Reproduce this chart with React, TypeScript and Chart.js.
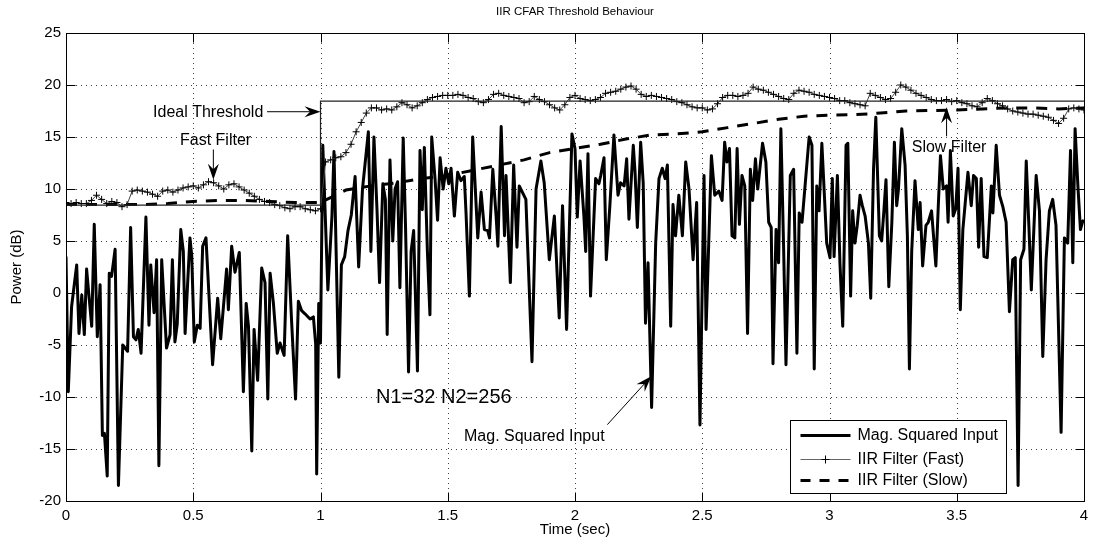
import React, { useEffect, useRef } from "react";
import { Chart, registerables } from "chart.js";

Chart.register(...registerables);

const FONT = "'Liberation Sans', Arial, Helvetica, sans-serif";

const TITLE = "IIR CFAR Threshold Behaviour";
const X_LABEL = "Time (sec)";
const Y_LABEL = "Power (dB)";
const X_TICKS = [0, 0.5, 1, 1.5, 2, 2.5, 3, 3.5, 4];
const Y_TICKS = [-20, -15, -10, -5, 0, 5, 10, 15, 20, 25];
const SERIES_NAMES = ["Mag. Squared Input", "IIR Filter (Fast)", "IIR Filter (Slow)"];

// Mag. squared input (dB), read vertex by vertex
const INPUT_T = [
  0.000, 0.009, 0.022, 0.042, 0.051, 0.062, 0.072, 0.081, 0.101, 0.111, 0.123, 0.134, 0.143, 0.151, 0.162, 0.170,
  0.179, 0.193, 0.206, 0.223, 0.242, 0.254, 0.265, 0.275, 0.284, 0.295, 0.314, 0.326, 0.333, 0.346, 0.356, 0.365,
  0.376, 0.395, 0.409, 0.418, 0.428, 0.437, 0.451, 0.461, 0.468, 0.487, 0.494, 0.504, 0.516, 0.527, 0.537, 0.550,
  0.576, 0.596, 0.608, 0.631, 0.638, 0.651, 0.664, 0.681, 0.697, 0.708, 0.717, 0.730, 0.739, 0.753, 0.769, 0.782,
  0.793, 0.802, 0.815, 0.830, 0.841, 0.857, 0.871, 0.887, 0.902, 0.913, 0.926, 0.939, 0.959, 0.972, 0.981, 0.985,
  0.993, 1.000, 1.009, 1.029, 1.045, 1.053, 1.072, 1.082, 1.095, 1.108, 1.121, 1.136, 1.150, 1.165, 1.188, 1.198,
  1.210, 1.222, 1.232, 1.245, 1.255, 1.262, 1.273, 1.284, 1.293, 1.303, 1.312, 1.325, 1.334, 1.346, 1.356, 1.366,
  1.381, 1.391, 1.400, 1.408, 1.420, 1.430, 1.437, 1.450, 1.460, 1.470, 1.482, 1.493, 1.504, 1.513, 1.526, 1.539,
  1.552, 1.565, 1.572, 1.585, 1.598, 1.618, 1.631, 1.644, 1.657, 1.664, 1.677, 1.690, 1.697, 1.710, 1.723, 1.729,
  1.746, 1.759, 1.772, 1.781, 1.807, 1.831, 1.847, 1.866, 1.879, 1.899, 1.919, 1.938, 1.951, 1.967, 1.988, 2.000,
  2.009, 2.020, 2.035, 2.042, 2.051, 2.061, 2.081, 2.094, 2.101, 2.114, 2.123, 2.137, 2.153, 2.169, 2.179, 2.193,
  2.203, 2.212, 2.229, 2.236, 2.245, 2.258, 2.268, 2.277, 2.287, 2.301, 2.317, 2.330, 2.343, 2.354, 2.363, 2.376,
  2.385, 2.395, 2.408, 2.422, 2.435, 2.448, 2.464, 2.478, 2.491, 2.507, 2.515, 2.536, 2.549, 2.565, 2.578, 2.588,
  2.597, 2.607, 2.617, 2.628, 2.637, 2.646, 2.656, 2.667, 2.678, 2.689, 2.698, 2.709, 2.718, 2.737, 2.750, 2.761,
  2.771, 2.778, 2.790, 2.800, 2.809, 2.820, 2.829, 2.846, 2.859, 2.872, 2.881, 2.892, 2.920, 2.931, 2.940, 2.950,
  2.959, 2.970, 2.989, 3.002, 3.011, 3.018, 3.031, 3.041, 3.052, 3.065, 3.072, 3.083, 3.091, 3.100, 3.109, 3.120,
  3.129, 3.140, 3.153, 3.162, 3.173, 3.182, 3.196, 3.205, 3.214, 3.222, 3.233, 3.245, 3.255, 3.264, 3.271, 3.284,
  3.297, 3.306, 3.314, 3.323, 3.336, 3.349, 3.356, 3.366, 3.379, 3.388, 3.401, 3.418, 3.427, 3.436, 3.447, 3.460,
  3.466, 3.475, 3.486, 3.496, 3.505, 3.514, 3.524, 3.544, 3.557, 3.566, 3.577, 3.586, 3.596, 3.607, 3.620, 3.636,
  3.642, 3.655, 3.668, 3.681, 3.694, 3.707, 3.720, 3.730, 3.741, 3.751, 3.764, 3.773, 3.784, 3.793, 3.806, 3.812,
  3.825, 3.838, 3.851, 3.864, 3.877, 3.890, 3.910, 3.923, 3.936, 3.947, 3.956, 3.965, 3.976, 3.986, 3.995, 4.000,
];
const INPUT_V = [
  3.5, -9.5, -1.3, 2.7, -3.9, -0.2, -4.0, 2.3, -3.2, 6.6, -4.2, 0.8, -13.7, -13.5, -17.6, 1.9,
  1.6, 4.2, -18.5, -5.0, -5.6, 6.3, -4.2, -4.5, -3.5, -5.8, 7.3, -3.1, 2.7, -1.9, 3.2, -16.6,
  3.2, -5.3, -4.0, 3.2, -4.7, -3.0, 6.1, 4.0, -3.9, 5.3, 3.6, -4.7, -3.1, -3.4, 4.5, 5.3,
  -6.9, -0.5, -4.4, 2.3, -1.6, 4.5, 2.0, 3.9, -9.5, -1.0, -3.2, -15.2, -3.5, -8.4, 2.4, 1.0,
  -10.2, 1.9, -1.0, -5.8, -4.8, -6.0, 5.5, -3.0, -10.2, -0.8, -1.7, -2.0, -2.5, -2.3, -4.9, -17.4,
  -1.0, -4.8, 14.2, 0.3, 7.4, 13.6, -8.1, 2.7, 3.5, 6.0, 7.5, 11.2, 2.5, 10.0, 15.5, 4.0,
  15.0, 8.0, 1.0, 10.5, 9.0, -4.0, 12.8, 5.0, 10.0, 10.7, 0.5, 14.9, 6.5, -7.6, 4.0, 6.0,
  -7.5, 13.7, 8.0, 14.0, 4.0, -2.1, 15.0, 11.0, 7.0, 13.0, 10.0, 12.0, 10.5, 12.0, 7.4, 11.6,
  10.8, 11.2, 7.6, -0.3, 15.0, 5.3, 9.7, 6.1, 6.0, 5.3, 11.9, 7.4, 4.5, 16.0, 5.5, 11.3,
  1.0, 12.3, 4.4, 10.3, 9.0, -6.6, 10.0, 12.7, 10.6, 3.2, 7.4, -2.4, 8.4, -3.5, 15.3, 13.9,
  7.3, 12.7, 7.4, 4.0, 13.4, -0.3, 11.0, 10.5, 11.3, 13.0, 3.2, 8.4, 15.2, 9.4, 10.6, 10.3,
  12.9, 7.1, 14.2, 11.6, 6.3, 14.5, 10.6, -2.9, 2.9, -11.0, 4.8, 11.0, 12.0, 11.0, 12.3, -3.2,
  8.5, 5.5, 9.4, 5.5, 12.6, 10.0, 3.2, 8.7, -12.7, 11.3, -3.5, 13.2, 9.4, 9.8, 8.9, 14.5,
  12.6, 13.9, 5.5, 5.3, 13.9, 6.6, 11.3, 10.3, -3.9, 11.9, 8.9, 12.9, 10.0, 14.4, 12.6, 6.8,
  6.3, -6.8, 6.1, 2.9, 15.8, 4.0, -6.9, 11.3, 11.9, -5.8, 7.7, 6.8, 15.0, 14.2, -7.3, 10.3,
  7.9, 14.4, 4.8, 3.4, 11.0, 3.5, 11.3, 2.9, -3.2, 14.2, 14.4, -0.3, 7.9, 4.8, 6.5, 9.4,
  8.4, 7.4, 4.8, -0.5, 11.9, 16.9, 5.5, 5.0, 8.0, 10.9, 0.6, 6.8, 14.5, 8.4, 10.0, 15.8,
  12.3, 5.5, -7.3, 4.0, 10.8, 6.1, 8.7, 2.6, 6.5, 6.8, 7.9, 2.6, 8.1, 13.2, 10.0, 10.3,
  6.8, 13.7, 7.4, 8.1, 12.0, -1.6, 6.1, 11.6, 8.4, 11.3, 11.0, 4.4, 11.0, 3.5, 3.4, 10.3,
  7.7, 14.2, 9.4, 8.3, 6.8, -1.8, 3.2, 3.4, -18.5, 3.2, 4.2, 12.7, 6.1, 0.3, 7.9, 11.3,
  7.9, -6.1, 3.2, 7.9, 9.0, 6.5, -13.4, 5.3, 4.8, 13.7, 2.9, 15.8, 10.3, 6.1, 6.9, 7.0,
];

// IIR Filter (Fast), one reading every FAST_STEP seconds from t = 0
const FAST_STEP = 0.02;
const FAST_V = [
  8.7, 8.6, 8.7, 8.6, 8.6, 8.9, 9.4, 9.0, 8.6, 8.8, 8.7, 8.3, 8.5, 9.8, 9.9, 9.8,
  9.7, 9.5, 9.3, 9.8, 9.9, 9.7, 9.9, 10.1, 10.2, 10.3, 10.1, 10.4, 10.7, 10.6, 10.3, 10.0,
  10.4, 10.5, 10.2, 9.9, 9.6, 9.3, 9.0, 8.8, 8.7, 8.5, 8.4, 8.2, 8.1, 8.3, 8.3, 8.1,
  8.0, 7.9, 8.1, 12.6, 12.8, 13.0, 13.1, 13.5, 14.3, 15.5, 16.4, 17.3, 17.8, 17.8, 17.6, 17.7,
  17.6, 17.9, 18.3, 18.1, 17.8, 18.0, 18.3, 18.6, 18.8, 18.9, 19.0, 19.0, 19.0, 19.1, 19.0, 18.8,
  18.7, 18.4, 18.3, 18.6, 19.1, 19.2, 19.0, 18.9, 18.8, 18.7, 18.3, 18.4, 18.9, 18.6, 18.4, 18.1,
  17.8, 17.6, 18.1, 18.8, 19.0, 18.7, 18.6, 18.5, 18.6, 18.8, 19.2, 19.3, 19.4, 19.6, 19.8, 19.9,
  19.6, 19.1, 18.9, 19.0, 18.9, 18.8, 18.7, 18.6, 18.4, 18.3, 18.1, 17.9, 17.8, 17.8, 17.6, 17.7,
  18.2, 18.8, 19.0, 19.0, 18.9, 19.0, 19.2, 19.8, 19.6, 19.5, 19.3, 19.1, 18.9, 18.7, 18.6, 19.2,
  19.5, 19.4, 19.3, 19.1, 19.0, 18.9, 18.8, 18.7, 18.5, 18.5, 18.3, 18.2, 18.1, 18.0, 19.2, 19.0,
  18.8, 18.6, 18.7, 19.3, 20.0, 19.8, 19.5, 19.2, 19.0, 18.8, 18.6, 18.5, 18.5, 18.6, 18.4, 18.5,
  18.3, 18.2, 18.0, 17.9, 18.3, 18.7, 18.5, 18.2, 18.0, 17.7, 17.5, 17.4, 17.3, 17.2, 17.2, 17.1,
  17.0, 16.9, 16.6, 16.3, 16.8, 17.7, 17.8, 17.7, 17.6,
];

// IIR Filter (Slow)
const SLOW_T = [0, 0.1, 0.2, 0.3, 0.4, 0.5, 0.6, 0.7, 0.8, 0.9, 1.0, 1.05, 1.1, 1.2, 1.3, 1.4, 1.5, 1.6, 1.7, 1.8,
  1.9, 2.0, 2.1, 2.2, 2.3, 2.4, 2.5, 2.6, 2.7, 2.8, 2.9, 3.0, 3.1, 3.2, 3.3, 3.4, 3.5, 3.6, 3.7, 3.8, 3.9, 4.0];
const SLOW_V = [8.5, 8.5, 8.5, 8.5, 8.6, 8.8, 8.9, 8.9, 8.8, 8.7, 8.7, 9.3, 9.9, 10.3, 10.6, 11.0, 11.3, 11.8, 12.3, 12.8,
  13.5, 13.9, 14.3, 14.8, 15.2, 15.3, 15.5, 15.9, 16.3, 16.7, 17.0, 17.1, 17.15, 17.3, 17.5, 17.55, 17.6, 17.7, 17.8, 17.8, 17.7, 17.8];

// Ideal threshold
const IDEAL_T = [0, 1, 1, 4];
const IDEAL_V = [8.45, 8.45, 18.45, 18.45];

// Text annotations (data coordinates), with optional arrows [t1, v1, t2, v2]
const ANNOTATIONS = [
  { text: "Ideal Threshold", t: 0.342, v: 16.9, size: 16, arrow: [0.79, 17.43, 1.0, 17.43] },
  { text: "Fast Filter", t: 0.448, v: 14.2, size: 16, arrow: [0.579, 13.8, 0.579, 10.9] },
  { text: "Slow Filter", t: 3.323, v: 13.6, size: 16, arrow: [3.46, 15.07, 3.46, 17.85] },
  { text: "N1=32 N2=256", t: 1.218, v: -10.6, size: 20, arrow: null },
  { text: "Mag. Squared Input", t: 1.564, v: -14.2, size: 16, arrow: [2.127, -12.66, 2.3, -8.0] },
];

function pts(ts: number[], vs: number[]) {
  return ts.map((t, i) => ({ x: t, y: vs[i] }));
}

function drawArrow(ctx: CanvasRenderingContext2D, x1: number, y1: number, x2: number, y2: number) {
  const ang = Math.atan2(y2 - y1, x2 - x1);
  const L = 16, W = 5.5;
  ctx.save();
  ctx.strokeStyle = "#000";
  ctx.fillStyle = "#000";
  ctx.lineWidth = 1;
  ctx.beginPath();
  ctx.moveTo(x1, y1);
  ctx.lineTo(x2 - Math.cos(ang) * L * 0.6, y2 - Math.sin(ang) * L * 0.6);
  ctx.stroke();
  ctx.translate(x2, y2);
  ctx.rotate(ang);
  ctx.beginPath();
  ctx.moveTo(0, 0);
  ctx.lineTo(-L, -W);
  ctx.lineTo(-L * 0.65, 0);
  ctx.lineTo(-L, W);
  ctx.closePath();
  ctx.fill();
  ctx.restore();
}

const overlay = {
  id: "overlay",
  beforeDatasetsDraw(chart: any) {
    const { ctx, chartArea: a, scales } = chart;
    const xs = scales.x, ys = scales.y;
    ctx.save();
    ctx.strokeStyle = "rgba(0,0,0,0.75)";
    ctx.lineWidth = 1;
    ctx.setLineDash([1, 4]);
    for (const t of X_TICKS) {
      const px = Math.round(xs.getPixelForValue(t)) + 0.5;
      if (px <= a.left + 1 || px >= a.right - 1) continue;
      ctx.beginPath();
      ctx.moveTo(px, a.top);
      ctx.lineTo(px, a.bottom);
      ctx.stroke();
    }
    for (const v of Y_TICKS) {
      const py = Math.round(ys.getPixelForValue(v)) + 0.5;
      if (py <= a.top + 1 || py >= a.bottom - 1) continue;
      ctx.beginPath();
      ctx.moveTo(a.left, py);
      ctx.lineTo(a.right, py);
      ctx.stroke();
    }
    ctx.restore();
  },
  afterDraw(chart: any) {
    const { ctx, chartArea: a, scales } = chart;
    const xs = scales.x, ys = scales.y;
    const X = (t: number) => xs.getPixelForValue(t);
    const Y = (v: number) => ys.getPixelForValue(v);
    ctx.save();
    // frame
    ctx.strokeStyle = "#000";
    ctx.lineWidth = 1;
    const l = Math.round(a.left) + 0.5, r = Math.round(a.right) + 0.5;
    const tp = Math.round(a.top) + 0.5, b = Math.round(a.bottom) + 0.5;
    ctx.strokeRect(l, tp, r - l, b - tp);
    // inward ticks
    const TL = 9;
    ctx.beginPath();
    for (const t of X_TICKS) {
      const px = Math.round(X(t)) + 0.5;
      ctx.moveTo(px, b); ctx.lineTo(px, b - TL);
      ctx.moveTo(px, tp); ctx.lineTo(px, tp + TL);
    }
    for (const v of Y_TICKS) {
      const py = Math.round(Y(v)) + 0.5;
      ctx.moveTo(l, py); ctx.lineTo(l + TL, py);
      ctx.moveTo(r, py); ctx.lineTo(r - TL, py);
    }
    ctx.stroke();

    // title and axis labels
    ctx.fillStyle = "#000";
    ctx.textAlign = "center";
    ctx.textBaseline = "middle";
    ctx.font = `11.5px ${FONT}`;
    ctx.fillText(TITLE, (a.left + a.right) / 2, 12);
    ctx.font = `15px ${FONT}`;
    ctx.fillText(X_LABEL, (a.left + a.right) / 2, 530);
    ctx.save();
    ctx.translate(17, (a.top + a.bottom) / 2);
    ctx.rotate(-Math.PI / 2);
    ctx.fillText(Y_LABEL, 0, 0);
    ctx.restore();

    // annotations
    ctx.textAlign = "left";
    ctx.textBaseline = "alphabetic";
    for (const an of ANNOTATIONS) {
      ctx.font = `${an.size}px ${FONT}`;
      ctx.fillText(an.text, X(an.t), Y(an.v));
      if (an.arrow) {
        const [t1, v1, t2, v2] = an.arrow;
        drawArrow(ctx, X(t1), Y(v1), X(t2), Y(v2));
      }
    }

    // legend box
    const bx = Math.round(a.right - 294) + 0.5, by = Math.round(a.bottom - 81) + 0.5;
    const bw = 216, bh = 73;
    ctx.fillStyle = "#fff";
    ctx.fillRect(bx, by, bw, bh);
    ctx.strokeStyle = "#000";
    ctx.lineWidth = 1;
    ctx.strokeRect(bx, by, bw, bh);
    const lx1 = bx + 10, lx2 = bx + 60, tx = bx + 67;
    const rows = [by + 15, by + 39, by + 60];
    ctx.lineWidth = 3;
    ctx.beginPath(); ctx.moveTo(lx1, rows[0]); ctx.lineTo(lx2, rows[0]); ctx.stroke();
    ctx.lineWidth = 1;
    ctx.strokeStyle = "#666";
    ctx.beginPath(); ctx.moveTo(lx1, rows[1]); ctx.lineTo(lx2, rows[1]); ctx.stroke();
    ctx.strokeStyle = "#000";
    const cx = (lx1 + lx2) / 2;
    ctx.beginPath();
    ctx.moveTo(cx - 4, rows[1]); ctx.lineTo(cx + 4, rows[1]);
    ctx.moveTo(cx, rows[1] - 4); ctx.lineTo(cx, rows[1] + 4);
    ctx.stroke();
    ctx.lineWidth = 3;
    ctx.setLineDash([10, 9]);
    ctx.beginPath(); ctx.moveTo(lx1, rows[2]); ctx.lineTo(lx2, rows[2]); ctx.stroke();
    ctx.setLineDash([]);
    ctx.fillStyle = "#000";
    ctx.font = `16px ${FONT}`;
    ctx.textBaseline = "middle";
    SERIES_NAMES.forEach((n, i) => ctx.fillText(n, tx, rows[i]));
    ctx.restore();
  },
};

export default function App() {
  const ref = useRef<HTMLCanvasElement | null>(null);
  useEffect(() => {
    if (!ref.current) return;
    const fastPts = FAST_V.map((v, i) => ({ x: Math.round(i * FAST_STEP * 1000) / 1000, y: v }));
    const chart = new Chart(ref.current, {
      type: "line",
      data: {
        datasets: [
          {
            label: "Ideal Threshold",
            data: pts(IDEAL_T, IDEAL_V),
            borderColor: "#222",
            borderWidth: 1.2,
            pointRadius: 0,
            order: 0,
          },
          {
            label: SERIES_NAMES[1],
            data: fastPts,
            borderColor: "#444",
            borderWidth: 1,
            pointStyle: "cross",
            pointRadius: 3.5,
            pointBorderColor: "#000",
            pointBorderWidth: 1,
            order: 1,
          },
          {
            label: SERIES_NAMES[2],
            data: pts(SLOW_T, SLOW_V),
            borderColor: "#000",
            borderWidth: 3,
            borderDash: [11, 9],
            pointRadius: 0,
            order: 2,
          },
          {
            label: SERIES_NAMES[0],
            data: pts(INPUT_T, INPUT_V),
            borderColor: "#000",
            borderWidth: 3,
            borderJoinStyle: "round",
            pointRadius: 0,
            order: 3,
          },
        ],
      },
      options: {
        responsive: false,
        animation: false,
        events: [],
        layout: { padding: { left: 0, right: 13, top: 33, bottom: 0 } },
        plugins: { legend: { display: false }, tooltip: { enabled: false }, title: { display: false } },
        scales: {
          x: {
            type: "linear",
            min: 0,
            max: 4,
            afterBuildTicks: (s: any) => { s.ticks = X_TICKS.map((v) => ({ value: v })); },
            afterFit: (s: any) => { s.height = 46; },
            grid: { display: false, drawTicks: false },
            border: { display: false },
            ticks: {
              color: "#000",
              font: { family: FONT, size: 15 },
              padding: 6,
              maxRotation: 0,
              autoSkip: false,
              callback: (v: any) => String(v),
            },
          },
          y: {
            type: "linear",
            min: -20,
            max: 25,
            afterBuildTicks: (s: any) => { s.ticks = Y_TICKS.map((v) => ({ value: v })); },
            afterFit: (s: any) => { s.width = 66; },
            grid: { display: false, drawTicks: false },
            border: { display: false },
            ticks: {
              color: "#000",
              font: { family: FONT, size: 15 },
              padding: 5,
              autoSkip: false,
              callback: (v: any) => String(v),
            },
          },
        },
      },
      plugins: [overlay],
    } as any);
    return () => chart.destroy();
  }, []);
  return (
    <div style={{ position: "fixed", left: 0, top: 0, width: 1097, height: 547, background: "#fff" }}>
      <canvas ref={ref} width={1097} height={547} style={{ display: "block" }} />
    </div>
  );
}
